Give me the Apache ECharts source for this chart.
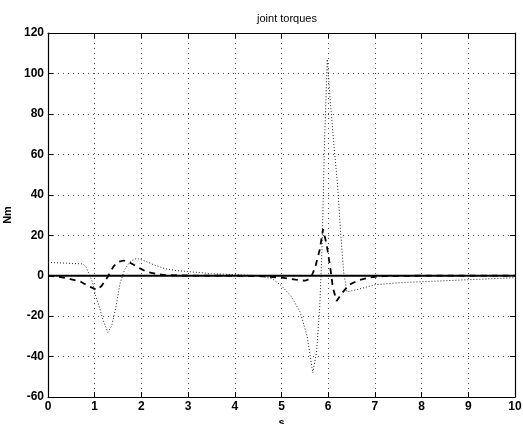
<!DOCTYPE html>
<html>
<head>
<meta charset="utf-8">
<script src="https://cdn.jsdelivr.net/npm/echarts@6/dist/echarts.min.js"></script>
<style>
  html, body { margin: 0; padding: 0; background: #fff; }
  #chart { width: 523px; height: 424px; }
</style>
</head>
<body>
<div id="chart"></div>
<script>
// time axis (s) and torque values (Nm)
const solidT = [0, 2, 4, 6, 8, 10];
const solidV = [0, 0, 0, 0, 0, 0];

const dashedT = [0, 0.3, 0.5, 0.7, 0.9, 1.05, 1.15, 1.28, 1.4, 1.5, 1.62, 1.75, 1.9, 2.1, 2.3, 2.5, 3.0, 4.0, 4.6, 5.0, 5.3, 5.5, 5.62, 5.72, 5.82, 5.89, 5.97, 6.05, 6.1, 6.18, 6.3, 6.45, 6.65, 6.9, 7.2, 8, 10];
const dashedV = [0, -0.8, -1.8, -3, -5.5, -7, -5, -0.5, 4.5, 6.8, 7.5, 6.5, 4.5, 2, 1, 0.3, 0, 0, -0.3, -1, -2, -2.5, -1.5, 4, 13, 23, 15, 3, -6, -12.5, -8.5, -4.5, -2.3, -0.8, -0.2, 0, 0];

const dottedT = [0, 0.4, 0.75, 0.82, 0.95, 1.02, 1.08, 1.18, 1.28, 1.36, 1.46, 1.54, 1.64, 1.76, 1.9, 2.05, 2.25, 2.5, 2.75, 3.0, 3.5, 4.0, 4.5, 4.8, 5.0, 5.2, 5.4, 5.55, 5.67, 5.75, 5.82, 5.87, 5.92, 5.98, 6.05, 6.12, 6.2, 6.27, 6.33, 6.4, 6.6, 7.0, 7.5, 8.0, 9.0, 10];
const dottedV = [6.5, 6.2, 5.8, 4, -3, -10, -14, -22, -28, -25, -15, -4, 3, 7, 8.6, 7.5, 5.5, 3.5, 2.5, 2, 1, 0.5, 0, -1.5, -5, -10, -18, -30, -48, -38, -15, 15, 65, 107, 85, 65, 45, 20, 2, -8, -7, -4.5, -3.5, -3, -2, -1];

const xTicks = [0, 10, 1];
const yTicks = [-60, 120, 20];

function pairs(t, v) {
    return t.map((x, i) => [x, v[i]]);
}

const chart = echarts.init(document.getElementById('chart'));
const font = 'Liberation Sans, Arial, sans-serif';

const baseAxis = {
    type: 'value',
    axisLine: { show: true, onZero: false, lineStyle: { color: '#000', width: 1.2 } },
    axisTick: { show: true, inside: true, length: 5, lineStyle: { color: '#000' } },
    splitLine: { show: false }
};

const option = {
    backgroundColor: '#fff',
    animation: false,
    title: {
        text: 'joint torques',
        left: 282,
        top: 8,
        textAlign: 'center',
        textStyle: { fontFamily: font, fontSize: 11, fontWeight: 'normal', color: '#000' }
    },
    grid: { left: 48, right: 8, top: 33, bottom: 27, outerBoundsMode: 'none', containLabel: false },
    xAxis: [
        Object.assign({}, baseAxis, {
            min: xTicks[0], max: xTicks[1], interval: xTicks[2],
            name: 's', nameLocation: 'middle', nameGap: 20,
            nameTextStyle: { fontFamily: font, fontSize: 11, fontWeight: 'bold', color: '#000' },
            axisLabel: { fontFamily: font, fontSize: 12, fontWeight: 'bold', color: '#000', margin: 4 },
            splitLine: { show: true, lineStyle: { color: '#000', type: [1, 4], width: 1, opacity: 0.7 } }
        }),
        Object.assign({}, baseAxis, {
            position: 'top',
            min: xTicks[0], max: xTicks[1], interval: xTicks[2],
            axisLabel: { show: false }
        })
    ],
    yAxis: [
        Object.assign({}, baseAxis, {
            min: yTicks[0], max: yTicks[1], interval: yTicks[2],
            name: 'Nm', nameLocation: 'middle', nameGap: 29, nameRotate: 90,
            nameTextStyle: { fontFamily: font, fontSize: 11, fontWeight: 'bold', color: '#000' },
            axisLabel: { fontFamily: font, fontSize: 12, fontWeight: 'bold', color: '#000', margin: 4 },
            splitLine: { show: true, lineStyle: { color: '#000', type: [1, 4], width: 1, opacity: 0.7 } }
        }),
        Object.assign({}, baseAxis, {
            position: 'right',
            min: yTicks[0], max: yTicks[1], interval: yTicks[2],
            axisLabel: { show: false }
        })
    ],
    series: [
        {
            name: 'dotted',
            type: 'line',
            data: pairs(dottedT, dottedV),
            showSymbol: false,
            lineStyle: { color: '#222', width: 1, type: [1, 2] }
        },
        {
            name: 'dashed',
            type: 'line',
            data: pairs(dashedT, dashedV),
            showSymbol: false,
            lineStyle: { color: '#000', width: 1.8, type: [6, 5] }
        },
        {
            name: 'solid',
            type: 'line',
            data: pairs(solidT, solidV),
            showSymbol: false,
            lineStyle: { color: '#000', width: 2 }
        }
    ]
};

chart.setOption(option);
</script>
</body>
</html>
